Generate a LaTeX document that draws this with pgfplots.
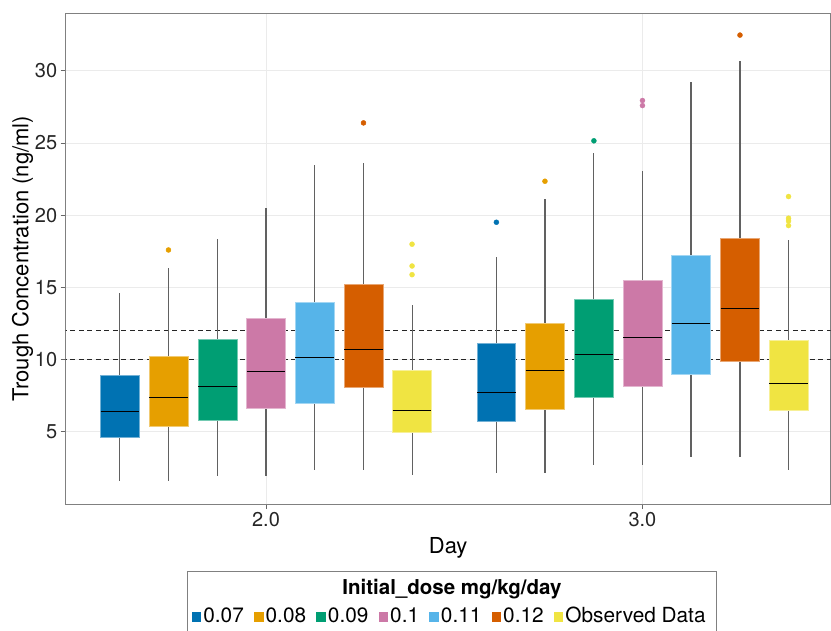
\documentclass[border=0pt]{standalone}
\usepackage{fontspec}
\setmainfont{TeX Gyre Heros}
\usepackage{pgfplots}
\pgfplotsset{compat=1.18}
\usepgfplotslibrary{statistics}

\definecolor{c1}{HTML}{0072B2}
\definecolor{c2}{HTML}{E69F00}
\definecolor{c3}{HTML}{009E73}
\definecolor{c4}{HTML}{CC79A7}
\definecolor{c5}{HTML}{56B4E9}
\definecolor{c6}{HTML}{D55E00}
\definecolor{c7}{HTML}{F0E442}

\pgfplotsset{
  bx/.style={
    boxplot/draw direction=y,
    boxplot/box extend=0.103,
    boxplot/whisker extend=0,
    boxplot/every box/.style={fill=#1, draw=#1!55!white, line width=0.6pt},
    boxplot/every whisker/.style={draw=black!62, line width=1.1pt},
    boxplot/every median/.style={draw=black, line width=1.1pt},
    only marks, mark=*, mark size=2.5pt, mark options={fill=#1, draw=#1}
  }
}
% legend key
\newcommand\sq[1]{{\color{#1}\rule[0.8pt]{9.5pt}{9.5pt}}\hspace{2pt}}
\newcommand\gap{\hspace{10.3pt}}

\begin{document}
\begin{tikzpicture}
\path[use as bounding box] (0,0) rectangle (831pt,630pt);
\begin{axis}[
  at={(65.7pt,126pt)}, anchor=south west,
  scale only axis, width=765pt, height=491pt,
  xmin=1.468, xmax=3.5, ymin=0, ymax=34,
  xtick={2,3}, xticklabels={2.0,3.0},
  ytick={5,10,15,20,25,30},
  tick pos=left, tick align=outside, major tick length=5pt,
  axis line style={draw=black!50, line width=0.9pt},
  grid=major, major grid style={draw=black!8, line width=0.8pt},
  tick style={draw=black!60, line width=0.8pt},
  xlabel=Day, ylabel=Trough Concentration (ng/ml),
  tick label style={font=\fontsize{20}{22}\selectfont, text=black!85},
  label style={font=\fontsize{22}{24}\selectfont},
  xlabel style={at={(axis description cs:0.5,-0.0896)}, anchor=center},
  ylabel style={at={(axis description cs:-0.0565,0.5)}, anchor=center},
  /pgf/number format/assume math mode=true,
]
% reference lines
\addplot[black!85, dash pattern=on 5pt off 3.5pt, line width=0.9pt] coordinates {(1.3,10) (3.7,10)};
\addplot[black!85, dash pattern=on 5pt off 3.5pt, line width=0.9pt] coordinates {(1.3,12) (3.7,12)};

% Day 2
\addplot[bx=c1, boxplot prepared={draw position=1.612, lower whisker=1.56, lower quartile=4.61, median=6.43, upper quartile=8.93, upper whisker=14.61}] coordinates {};
\addplot[bx=c2, boxplot prepared={draw position=1.741, lower whisker=1.56, lower quartile=5.35, median=7.38, upper quartile=10.22, upper whisker=16.32}] coordinates {(0,17.59)};
\addplot[bx=c3, boxplot prepared={draw position=1.871, lower whisker=1.93, lower quartile=5.83, median=8.12, upper quartile=11.40, upper whisker=18.35}] coordinates {};
\addplot[bx=c4, boxplot prepared={draw position=2.000, lower whisker=1.93, lower quartile=6.66, median=9.16, upper quartile=12.86, upper whisker=20.50}] coordinates {};
\addplot[bx=c5, boxplot prepared={draw position=2.129, lower whisker=2.32, lower quartile=6.94, median=10.16, upper quartile=13.94, upper whisker=23.46}] coordinates {};
\addplot[bx=c6, boxplot prepared={draw position=2.259, lower whisker=2.32, lower quartile=8.05, median=10.68, upper quartile=15.19, upper whisker=23.60}] coordinates {(0,26.39)};
\addplot[bx=c7, boxplot prepared={draw position=2.388, lower whisker=1.98, lower quartile=4.96, median=6.48, upper quartile=9.28, upper whisker=13.76}] coordinates {(0,17.99) (0,16.48) (0,15.88)};

% Day 3
\addplot[bx=c1, boxplot prepared={draw position=2.612, lower whisker=2.16, lower quartile=5.72, median=7.75, upper quartile=11.13, upper whisker=17.11}] coordinates {(0,19.51)};
\addplot[bx=c2, boxplot prepared={draw position=2.741, lower whisker=2.16, lower quartile=6.57, median=9.25, upper quartile=12.49, upper whisker=21.11}] coordinates {(0,22.35)};
\addplot[bx=c3, boxplot prepared={draw position=2.871, lower whisker=2.69, lower quartile=7.38, median=10.36, upper quartile=14.20, upper whisker=24.33}] coordinates {(0,25.15)};
\addplot[bx=c4, boxplot prepared={draw position=3.000, lower whisker=2.69, lower quartile=8.12, median=11.51, upper quartile=15.51, upper whisker=23.07}] coordinates {(0,27.94) (0,27.59)};
\addplot[bx=c5, boxplot prepared={draw position=3.129, lower whisker=3.25, lower quartile=8.95, median=12.51, upper quartile=17.20, upper whisker=29.21}] coordinates {};
\addplot[bx=c6, boxplot prepared={draw position=3.259, lower whisker=3.25, lower quartile=9.90, median=13.55, upper quartile=18.40, upper whisker=30.71}] coordinates {(0,32.47)};
\addplot[bx=c7, boxplot prepared={draw position=3.388, lower whisker=2.37, lower quartile=6.48, median=8.35, upper quartile=11.35, upper whisker=18.28}] coordinates {(0,21.29) (0,19.79) (0,19.60) (0,19.28)};
\end{axis}

% legend box
\draw[black!50, line width=0.9pt] (187.7pt,-10pt) rectangle (716.7pt,58.3pt);
\node[font=\fontsize{20.5}{22}\selectfont\bfseries, anchor=center]
  at (452pt,41pt) {Initial\_dose mg/kg/day};
\node[font=\fontsize{20.8}{22}\selectfont, anchor=west, inner sep=0pt]
  at (191.7pt,15pt)
  {\sq{c1}0.07\gap\sq{c2}0.08\gap\sq{c3}0.09\gap\sq{c4}0.1\gap\sq{c5}0.11\gap\sq{c6}0.12\gap\sq{c7}Observed Data};
\end{tikzpicture}
\end{document}
